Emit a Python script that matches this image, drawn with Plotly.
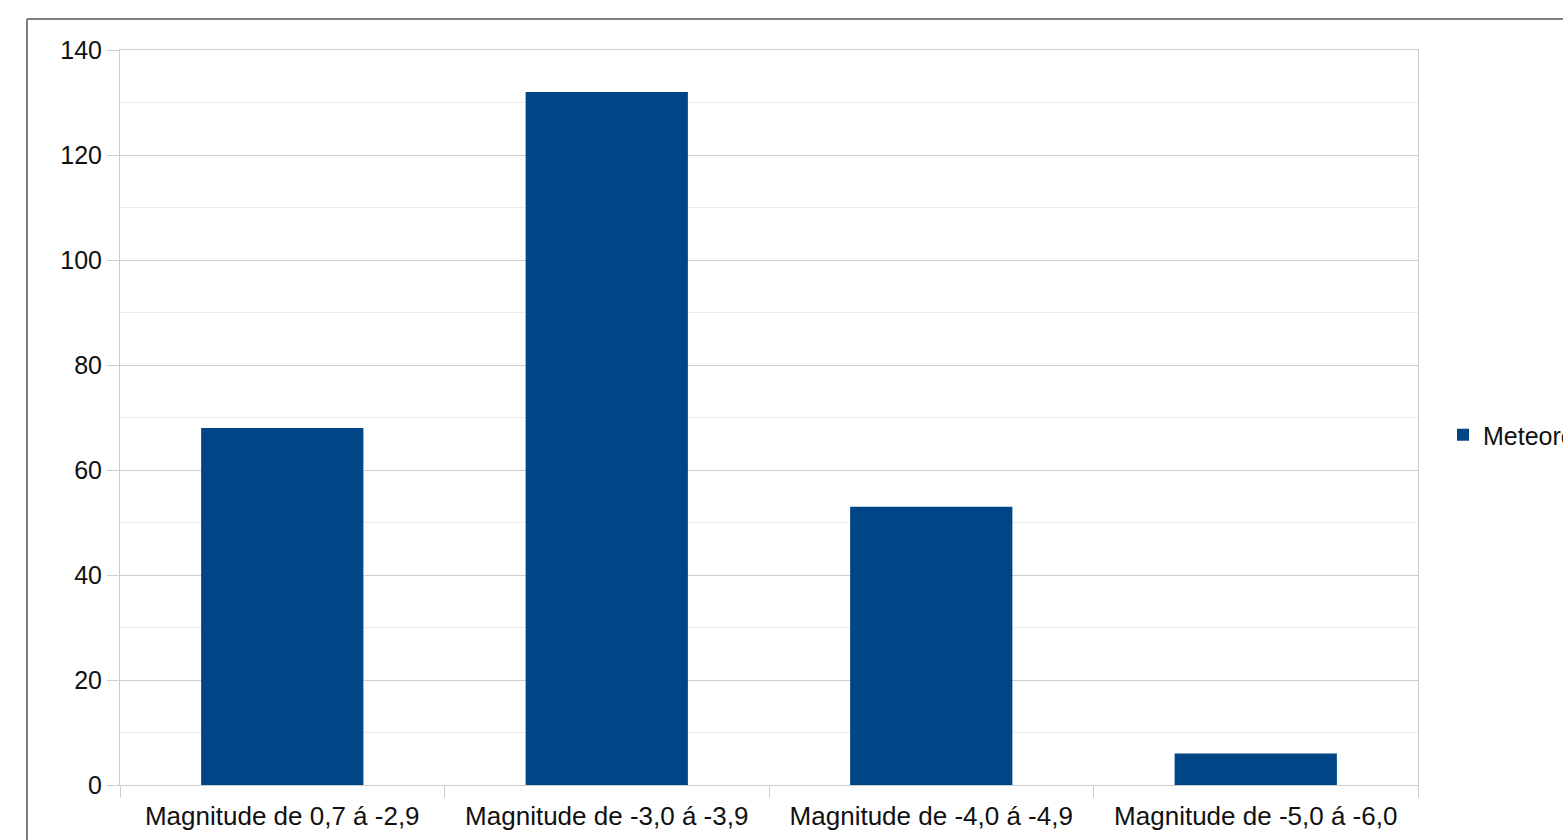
import plotly.graph_objects as go

# Meteor counts per magnitude band
categories = [
    "Magnitude de 0,7 á -2,9",
    "Magnitude de -3,0 á -3,9",
    "Magnitude de -4,0 á -4,9",
    "Magnitude de -5,0 á -6,0",
]
counts = [68, 132, 53, 6]
series_name = "Meteoros"
y_ticks = [0, 20, 40, 60, 80, 100, 120, 140]

fig = go.Figure()
fig.add_trace(go.Bar(
    x=categories,
    y=counts,
    name=series_name,
    marker=dict(color="#004586", line=dict(width=0)),
    width=0.5,
    showlegend=True,
))

W, H = 1563, 840
L, R, T, B = 120, 145, 50, 55
pw, ph = W - L - R, H - T - B

def px_x(x):
    return (x - L) / pw

def px_y(y):
    return (H - B - y) / ph

axis_color = "#cccccc"

fig.update_layout(
    width=W,
    height=H,
    margin=dict(l=L, r=R, t=T, b=B, autoexpand=False),
    paper_bgcolor="white",
    plot_bgcolor="white",
    font=dict(family="Liberation Sans, Arial, sans-serif", size=25, color="#111111"),
    showlegend=True,
    legend=dict(
        x=px_x(1443), y=px_y(435), xanchor="left", yanchor="middle",
        font=dict(size=25), bgcolor="rgba(0,0,0,0)", itemwidth=30,
    ),
    xaxis=dict(
        type="category",
        showgrid=False,
        showline=True, linecolor=axis_color, linewidth=1, mirror=True,
        ticks="outside", tickson="boundaries", ticklen=12, tickcolor=axis_color,
        tickfont=dict(size=26), ticklabelstandoff=8,
        range=[-0.5, 3.5],
    ),
    yaxis=dict(
        range=[0, 140],
        tickvals=y_ticks,
        showgrid=True, gridcolor="#cfcfcf", gridwidth=1,
        minor=dict(dtick=10, showgrid=True, gridcolor="#ebebeb", gridwidth=1),
        showline=True, linecolor=axis_color, linewidth=1, mirror=True,
        ticks="outside", ticklen=12, tickcolor=axis_color,
        tickfont=dict(size=25),
        zeroline=False,
    ),
    shapes=[
        # outer chart frame (left and top edges visible)
        dict(type="line", xref="paper", yref="paper",
             x0=px_x(27), x1=px_x(27), y0=px_y(19), y1=px_y(H + 10),
             line=dict(color="#7f7f7f", width=2)),
        dict(type="line", xref="paper", yref="paper",
             x0=px_x(27), x1=px_x(W + 10), y0=px_y(19), y1=px_y(19),
             line=dict(color="#7f7f7f", width=2)),
    ],
)

fig.write_html("out.html")
